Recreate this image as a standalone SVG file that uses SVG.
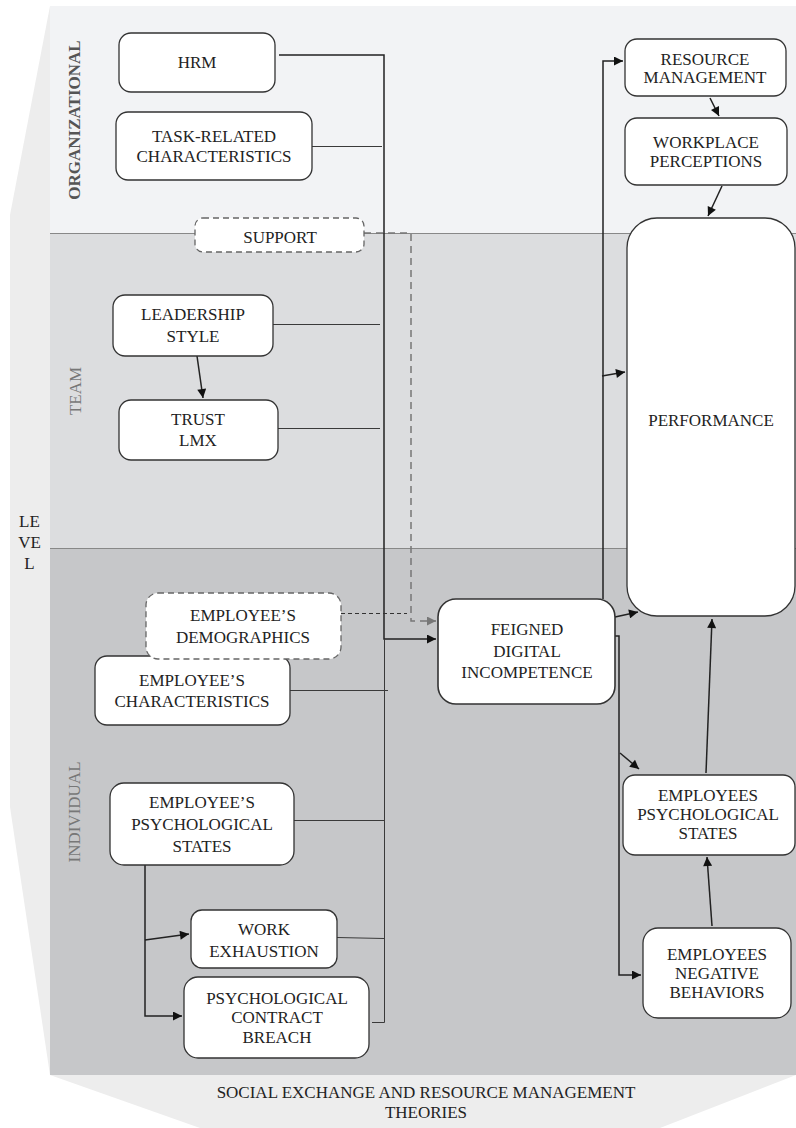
<svg xmlns="http://www.w3.org/2000/svg" width="796" height="1128" viewBox="0 0 796 1128">
<style>
.n rect{fill:#fff;stroke:#333;stroke-width:1.3}
.d rect{fill:#fff;stroke:#666;stroke-width:1.3;stroke-dasharray:6 4}
text{font-family:"Liberation Serif","Times New Roman",serif;font-size:17px;fill:#222;text-anchor:middle}
.lbl{fill:#777}
.c path{fill:none;stroke:#222;stroke-width:1.5}
.c .t{stroke:#3a3a3a;stroke-width:1}
</style>
<defs>
<marker id="ah" viewBox="0 0 10 10" refX="10" refY="5" markerWidth="11" markerHeight="9" markerUnits="userSpaceOnUse" orient="auto"><path d="M0,0 L10,5 L0,10 z" fill="#111"/></marker>
<marker id="ag" viewBox="0 0 10 10" refX="10" refY="5" markerWidth="11" markerHeight="9" markerUnits="userSpaceOnUse" orient="auto"><path d="M0,0 L10,5 L0,10 z" fill="#777"/></marker>
</defs>
<rect width="796" height="1128" fill="#fff"/>
<g id="background">
<polygon points="50,6 796,6 796,1075 660,1128 200,1128 50,1075 10,807 10,215" fill="#ededed"/>
<rect x="50" y="6" width="746" height="227" fill="#f2f3f5"/>
<rect x="50" y="233" width="746" height="315" fill="#dcdddf"/>
<rect x="50" y="548" width="746" height="527" fill="#c6c7c9"/>
<line x1="50" y1="233.5" x2="796" y2="233.5" stroke="#888" stroke-width="1"/>
<line x1="50" y1="548.5" x2="796" y2="548.5" stroke="#888" stroke-width="1"/>
<text transform="translate(80,120) rotate(-90)" style="font-weight:bold;fill:#555">ORGANIZATIONAL</text>
<text class="lbl" transform="translate(81,391) rotate(-90)">TEAM</text>
<text class="lbl" transform="translate(80,812) rotate(-90)">INDIVIDUAL</text>
<text x="29.5" y="527">LE</text>
<text x="29.5" y="548">VE</text>
<text x="29.5" y="569">L</text>
<text x="426" y="1098">SOCIAL EXCHANGE AND RESOURCE MANAGEMENT</text>
<text x="426" y="1118">THEORIES</text>
</g>
<g id="connectors" class="c">
<path d="M279,55 H384 V639 H436" marker-end="url(#ah)"/>
<path class="t" d="M384.5,639 V1022.5"/>
<path class="t" d="M312,146.5 H382"/>
<path class="t" d="M273,324.5 H380"/>
<path class="t" d="M278,428.5 H380"/>
<path class="t" d="M290,690.5 H388"/>
<path class="t" d="M294,820.5 H384"/>
<path class="t" d="M337,937.5 L384,938.5"/>
<path class="t" d="M372,1022.5 H384.5"/>
<path d="M364,233 H411 V621 H436" style="stroke:#777;stroke-dasharray:7 5" marker-end="url(#ag)"/>
<path d="M341,613.5 H407" style="stroke:#333;stroke-width:1.2;stroke-dasharray:4 3"/>
<path d="M197,356 L203,398" marker-end="url(#ah)"/>
<path d="M145,865 V1016 H182" marker-end="url(#ah)"/>
<path d="M145,940 L189,934" marker-end="url(#ah)"/>
<path d="M615,617 L638,612" marker-end="url(#ah)"/>
<path d="M603,599 V61 H623" marker-end="url(#ah)"/>
<path d="M602,376 L625,372" marker-end="url(#ah)"/>
<path d="M615,636 H619 V975 H641" marker-end="url(#ah)"/>
<path d="M620,753 L639,769" marker-end="url(#ah)"/>
<path d="M710,98 L719,116" marker-end="url(#ah)"/>
<path d="M722,186 L708,216" marker-end="url(#ah)"/>
<path d="M706,773 L712,619" marker-end="url(#ah)"/>
<path d="M712,926 L707,857" marker-end="url(#ah)"/>
</g>
<g id="hrm" class="n"><rect x="119" y="33" width="156" height="59" rx="12"/><text x="197" y="68">HRM</text></g>
<g id="task" class="n"><rect x="116" y="112" width="196" height="68" rx="12"/><text x="214" y="142">TASK-RELATED</text><text x="214" y="162">CHARACTERISTICS</text></g>
<g id="support" class="d"><rect x="195" y="218" width="169" height="34" rx="8"/><text x="280" y="243">SUPPORT</text></g>
<g id="leadership" class="n"><rect x="113" y="295" width="160" height="61" rx="12"/><text x="193" y="320">LEADERSHIP</text><text x="193" y="342">STYLE</text></g>
<g id="trust" class="n"><rect x="119" y="400" width="159" height="60" rx="12"/><text x="198" y="425">TRUST</text><text x="198" y="446">LMX</text></g>
<g id="characteristics" class="n"><rect x="95" y="656" width="195" height="69" rx="12"/><text x="192" y="686">EMPLOYEE’S</text><text x="192" y="707">CHARACTERISTICS</text></g>
<g id="demographics" class="d"><rect x="146" y="593" width="195" height="66" rx="12"/><text x="243" y="621">EMPLOYEE’S</text><text x="243" y="643">DEMOGRAPHICS</text></g>
<g id="psychstates" class="n"><rect x="110" y="783" width="184" height="82" rx="14"/><text x="202" y="808">EMPLOYEE’S</text><text x="202" y="830">PSYCHOLOGICAL</text><text x="202" y="852">STATES</text></g>
<g id="exhaustion" class="n"><rect x="191" y="910" width="146" height="58" rx="11"/><text x="264" y="935">WORK</text><text x="264" y="957">EXHAUSTION</text></g>
<g id="breach" class="n"><rect x="184" y="977" width="185" height="81" rx="14"/><text x="277" y="1004">PSYCHOLOGICAL</text><text x="277" y="1023">CONTRACT</text><text x="277" y="1043">BREACH</text></g>
<g id="fdi" class="n"><rect x="438" y="599" width="177" height="105" rx="18" style="stroke-width:1.6"/><text x="527" y="635">FEIGNED</text><text x="527" y="657">DIGITAL</text><text x="527" y="678">INCOMPETENCE</text></g>
<g id="resource" class="n"><rect x="625" y="39" width="161" height="57" rx="12"/><text x="705" y="65">RESOURCE</text><text x="705" y="83">MANAGEMENT</text></g>
<g id="workplace" class="n"><rect x="625" y="118" width="162" height="67" rx="12"/><text x="706" y="148">WORKPLACE</text><text x="706" y="167">PERCEPTIONS</text></g>
<g id="performance" class="n"><rect x="627" y="218" width="168" height="398" rx="30"/><text x="711" y="426">PERFORMANCE</text></g>
<g id="empstates" class="n"><rect x="623" y="775" width="172" height="80" rx="12"/><text x="708" y="801">EMPLOYEES</text><text x="708" y="820">PSYCHOLOGICAL</text><text x="708" y="839">STATES</text></g>
<g id="negbeh" class="n"><rect x="643" y="928" width="148" height="90" rx="15"/><text x="717" y="960">EMPLOYEES</text><text x="717" y="979">NEGATIVE</text><text x="717" y="998">BEHAVIORS</text></g>
</svg>
